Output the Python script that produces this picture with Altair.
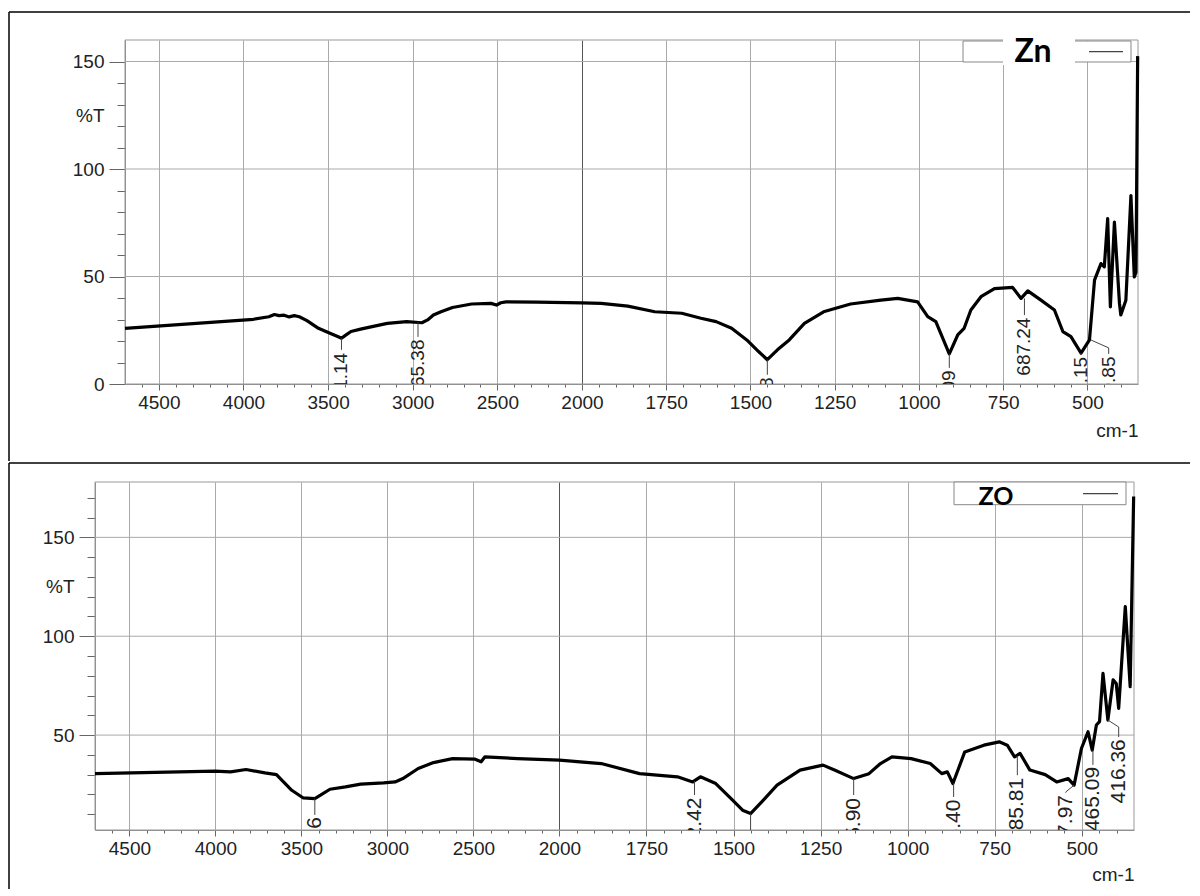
import altair as alt
import pandas as pd

# ---------------- spectra (wavenumber cm-1, %T) ----------------
zn_wn = [4700, 3941, 3850, 3817, 3790, 3760, 3730, 3700, 3670, 3625, 3557, 3489, 3440, 3421, 3400,
         3365, 3308, 3240, 3150, 3036, 2946, 2912, 2878, 2833, 2765, 2652, 2538, 2505, 2480, 2449,
         2267, 2000, 1943, 1864, 1784, 1704, 1647, 1602, 1556, 1511, 1476, 1450, 1420, 1385, 1340,
         1283, 1203, 1113, 1063, 1004, 974, 950, 910, 885, 866, 846, 816, 776, 722, 697, 677, 638,
         598, 573, 549, 519, 494, 479, 460, 450, 440, 432, 420, 405, 401, 386, 371, 361, 356, 351]
zn_t = [25.9, 30.1, 31.3, 32.3, 31.8, 32.0, 31.2, 31.8, 31.3, 29.5, 25.9, 23.6, 22.0, 21.3, 22.5,
        24.4, 25.5, 26.7, 28.2, 29.0, 28.5, 29.8, 32.1, 33.6, 35.6, 37.2, 37.5, 36.7, 37.8, 38.2,
        38.1, 37.7, 37.5, 36.2, 33.6, 32.9, 30.6, 29.0, 25.9, 20.5, 15.1, 11.3, 15.9, 20.5, 28.2,
        33.6, 37.2, 39.0, 39.8, 38.2, 31.3, 29.0, 14.0, 22.8, 25.9, 34.4, 40.6, 44.4, 44.9, 39.8, 43.3, 39.0,
        34.4, 24.4, 22.0, 14.4, 20.5, 48.3, 56.0, 54.5, 76.9, 35.9, 75.3, 37.5, 32.1, 39.0, 87.6, 49.8, 52.0, 152.5]

zo_wn = [4700, 4002, 3912, 3822, 3712, 3645, 3556, 3489, 3422, 3389, 3334, 3244, 3155, 3022, 2955,
         2910, 2821, 2732, 2621, 2490, 2455, 2433, 2244, 2000, 1880, 1770, 1661, 1617, 1595, 1551,
         1507, 1474, 1451, 1419, 1375, 1309, 1243, 1210, 1155, 1111, 1078, 1045, 990, 935, 902, 886,
         870, 836, 781, 737, 714, 693, 677, 649, 605, 572, 539, 522, 501, 482, 470, 458, 449, 439,
         425, 410, 401, 394, 375, 361, 351]
zo_t = [30.5, 31.8, 31.4, 32.6, 30.9, 30.0, 22.1, 18.2, 17.9, 19.6, 22.6, 23.8, 25.2, 25.8, 26.3,
        28.0, 33.1, 36.1, 38.1, 37.8, 36.5, 39.0, 38.1, 37.3, 35.6, 30.5, 28.9, 26.3, 28.9, 25.5,
        17.9, 12.0, 10.3, 16.2, 24.7, 32.3, 34.8, 32.3, 28.0, 30.5, 35.6, 39.0, 38.1, 35.6, 30.5, 31.4,
        25.5, 41.5, 44.9, 46.6, 44.9, 39.0, 40.7, 32.3, 30.0, 26.3, 28.0, 24.7, 43.2, 51.7, 42.4, 55.1, 56.8, 81.2,
        57.6, 77.9, 76.1, 63.5, 115.0, 74.5, 170.7]

# ---------------- peak annotations ----------------
zn_pk_wn = [3421, 2969, 1450, 910, 687, 519, 490]
zn_pk_t = [21.3, 28.6, 11.3, 14.0, 39.8, 14.4, 20.5]
zn_lab_wn = [3421, 2969, 1450, 910, 687, 519, 437]
zn_bend_t = [None, None, None, None, None, None, 16.8]
zn_lead_end = [15.9, 21.9, 4.3, 7.5, 32.1, 13.8, 14.0]
zn_lab_top = [14.5, 20.7, 3.1, 6.3, 30.9, 12.6, 12.8]
zn_lab_text = ["3421.14", "2965.38", "1450.48", "907.09", "687.24", "515.15", "489.85"]

zo_pk_wn = [3422, 1612, 1451, 1155, 868, 685, 522, 468, 425]
zo_pk_t = [17.9, 26.8, 10.3, 28.0, 25.5, 39.5, 24.7, 42.4, 57.6]
zo_lab_wn = [3422, 1612, 1451, 1155, 868, 685, 546, 468, 394]
zo_bend_t = [None, None, None, None, None, None, 21.2, None, 54.1]
zo_lead_end = [9.6, 19.7, 2.0, 19.7, 18.7, 29.7, 20.9, 34.9, 49.0]
zo_lab_top = [8.5, 18.4, 0.5, 18.2, 17.4, 28.4, 19.7, 33.9, 47.9]
zo_lab_text = ["25.16", "1612.42", "", "1155.90", "868.40", "685.81", "517.97", "465.09", "416.36"]

# ---------------- axes ticks ----------------
x_major = [4500, 4000, 3500, 3000, 2500, 2000, 1750, 1500, 1250, 1000, 750, 500]
x_minor = [4600, 4400, 4300, 4200, 4100, 3900, 3800, 3700, 3600, 3400, 3300, 3200, 3100,
           2900, 2800, 2700, 2600, 2400, 2300, 2200, 2100, 1950, 1900, 1850, 1800, 1700,
           1650, 1600, 1550, 1450, 1400, 1350, 1300, 1200, 1150, 1100, 1050, 950, 900, 850,
           800, 700, 650, 600, 550, 450, 400]
zn_y_major = [0, 50, 100, 150]
zn_y_minor = [10, 20, 30, 40, 60, 70, 80, 90, 110, 120, 130, 140]
zo_y_major = [50, 100, 150]
zo_y_minor = [10, 20, 30, 40, 60, 70, 80, 90, 110, 120, 130, 140, 160, 170]

FONT = "Liberation Sans"
GRID = "#aaaaaa"
one = pd.DataFrame({"k": [0]})


def hrule(x1, x2, y, w=1.5, color="black"):
    return alt.Chart(one).mark_rule(color=color, strokeWidth=w).encode(
        x=alt.value(x1), x2=alt.value(x2), y=alt.value(y))


def vrule(x, y1, y2, w=1.5, color="black"):
    return alt.Chart(one).mark_rule(color=color, strokeWidth=w).encode(
        x=alt.value(x), y=alt.value(y1), y2=alt.value(y2))


def panel(wn, t, pk_wn, pk_t, lab_wn, bend_t, lead_end, lab_top, lab_text,
          W, H, xoff, xmid, ydom, y_major, y_minor, lab_size, cm_y, frame, legend):
    df = pd.DataFrame({"wn": wn, "t": t, "i": list(range(len(wn)))})
    xs = alt.Scale(domain=[4700, 2000, 350], range=[xoff, xoff + xmid, xoff + W],
                   nice=False, zero=False)
    ys = alt.Scale(domain=ydom, nice=False, zero=False)
    pct_y = H - (125 - ydom[0]) / (ydom[1] - ydom[0]) * H

    x_axis = alt.Axis(values=x_major, format="d", title="cm-1", titleAnchor="end",
                      titleAlign="right", titleX=xoff + W, titleY=cm_y, titleBaseline="middle",
                      titleFontSize=19, titleFontWeight="normal", titleColor="#222",
                      labelFontSize=19, labelColor="#222", labelPadding=3, labelFlush=False,
                      labelOverlap=False, tickSize=6, tickColor="#666", domainColor="#888",
                      grid=True, gridWidth=1,
                      gridColor={"condition": {"test": "datum.value === 2000", "value": "#555555"},
                                 "value": GRID})
    y_axis = alt.Axis(values=y_major, format="d", title="%T", titleAngle=0, titleAlign="right",
                      titleBaseline="middle", titleX=-21, titleY=pct_y, titleFontSize=19,
                      titleFontWeight="normal", titleColor="#222", labelFontSize=19,
                      labelColor="#222", labelPadding=5, tickSize=16, tickColor="#666",
                      domainColor="#888", grid=False, offset=-xoff)

    grid_df = pd.DataFrame({"v": [v for v in y_major if v > ydom[0]]})
    ygrid = alt.Chart(grid_df).mark_rule(color=GRID, strokeWidth=1).encode(
        y=alt.Y("v:Q", scale=ys, axis=None), x=alt.value(xoff), x2=alt.value(xoff + W))
    border = alt.Chart(one).mark_rect(fillOpacity=0, stroke="#999999", strokeWidth=1).encode(
        x=alt.value(xoff), x2=alt.value(xoff + W), y=alt.value(0), y2=alt.value(H))

    line = alt.Chart(df).mark_line(color="black", strokeWidth=3.2, strokeJoin="round").encode(
        x=alt.X("wn:Q", scale=xs, axis=x_axis),
        y=alt.Y("t:Q", scale=ys, axis=y_axis),
        order="i:Q")

    minor = alt.Chart(df).mark_point(opacity=0).encode(
        x=alt.X("wn:Q", scale=xs, axis=alt.Axis(values=x_minor, labels=False, grid=False,
                                                 domain=False, tickSize=3, tickColor="#666",
                                                 title=None, orient="bottom")),
        y=alt.Y("t:Q", scale=ys, axis=alt.Axis(values=y_minor, labels=False, grid=False,
                                                domain=False, tickSize=8, tickColor="#666",
                                                title=None, orient="left", offset=-xoff)))

    rows = []
    for j in range(len(pk_wn)):
        rows.append({"g": j, "k": 0, "wn": pk_wn[j], "t": pk_t[j]})
        if bend_t[j] is not None:
            rows.append({"g": j, "k": 1, "wn": lab_wn[j], "t": bend_t[j]})
        rows.append({"g": j, "k": 2, "wn": lab_wn[j], "t": lead_end[j]})
    lead_df = pd.DataFrame(rows)
    leaders = alt.Chart(lead_df).mark_line(color="#444", strokeWidth=1, clip=True).encode(
        x=alt.X("wn:Q", scale=xs, axis=None),
        y=alt.Y("t:Q", scale=ys, axis=None),
        detail="g:N", order="k:Q")

    lab_df = pd.DataFrame({"wn": lab_wn, "t": lab_top, "txt": lab_text})
    lab_df = lab_df[lab_df["txt"] != ""]
    labels = alt.Chart(lab_df).mark_text(angle=270, align="right", baseline="middle",
                                         fontSize=lab_size, font=FONT, color="#222",
                                         clip=True).encode(
        x=alt.X("wn:Q", scale=xs, axis=None),
        y=alt.Y("t:Q", scale=ys, axis=None),
        text="txt:N")

    (bx1, bx2, by1, by2, px1, px2, py1, py2, name, nx, ny, nsize, lx1, lx2, ly) = legend
    box = alt.Chart(one).mark_rect(fill="white", stroke="#888", strokeWidth=1).encode(
        x=alt.value(xoff + bx1), x2=alt.value(xoff + bx2), y=alt.value(by1), y2=alt.value(by2))
    layers = [ygrid, border, line, minor, leaders, labels, box]
    if px1 is not None:
        patch = alt.Chart(one).mark_rect(fill="white").encode(
            x=alt.value(xoff + px1), x2=alt.value(xoff + px2), y=alt.value(py1), y2=alt.value(py2))
        layers.append(patch)
    name_txt = alt.Chart(one).mark_text(text=name, font="Lato", fontWeight="bold",
                                        fontSize=nsize, align="center", baseline="alphabetic",
                                        color="black").encode(x=alt.value(xoff + nx), y=alt.value(ny))
    sample = hrule(xoff + lx1, xoff + lx2, ly, w=1.2, color="#444")
    layers += [name_txt, sample]

    fl, ft, fr, fb = frame
    layers += [hrule(fl, fr, ft), vrule(fl, ft, fb)]

    return alt.layer(*layers).resolve_axis(x="independent", y="independent").properties(
        width=W + xoff, height=H)


top = panel(zn_wn, zn_t, zn_pk_wn, zn_pk_t, zn_lab_wn, zn_bend_t, zn_lead_end, zn_lab_top,
            zn_lab_text, W=1013, H=344, xoff=30, xmid=457, ydom=[0, 160], y_major=zn_y_major,
            y_minor=zn_y_minor, lab_size=19, cm_y=46,
            frame=(-86, -28, 1095, 421),
            legend=(838, 1006, 1, 22, 878, 950, -2, 25, "Zn", 908, 22, 32, 964, 998, 11.7))

bottom = panel(zo_wn, zo_t, zo_pk_wn, zo_pk_t, zo_lab_wn, zo_bend_t, zo_lead_end, zo_lab_top,
               zo_lab_text, W=1039, H=348, xoff=0, xmid=464.4, ydom=[2, 178], y_major=zo_y_major,
               y_minor=zo_y_minor, lab_size=21, cm_y=44,
               frame=(-86, -19, 1095, 407),
               legend=(859, 1031, 0, 22.7, None, None, None, None, "ZO", 901, 23.3, 25, 988, 1023, 11.7))

chart = alt.concat(top, bottom, columns=1, spacing=0).properties(
    padding={"left": 0, "top": 3, "right": 0, "bottom": 0}
).configure(font=FONT).configure_view(stroke=None)

chart.save("out.html", embed_options={"renderer": "svg", "actions": False})
